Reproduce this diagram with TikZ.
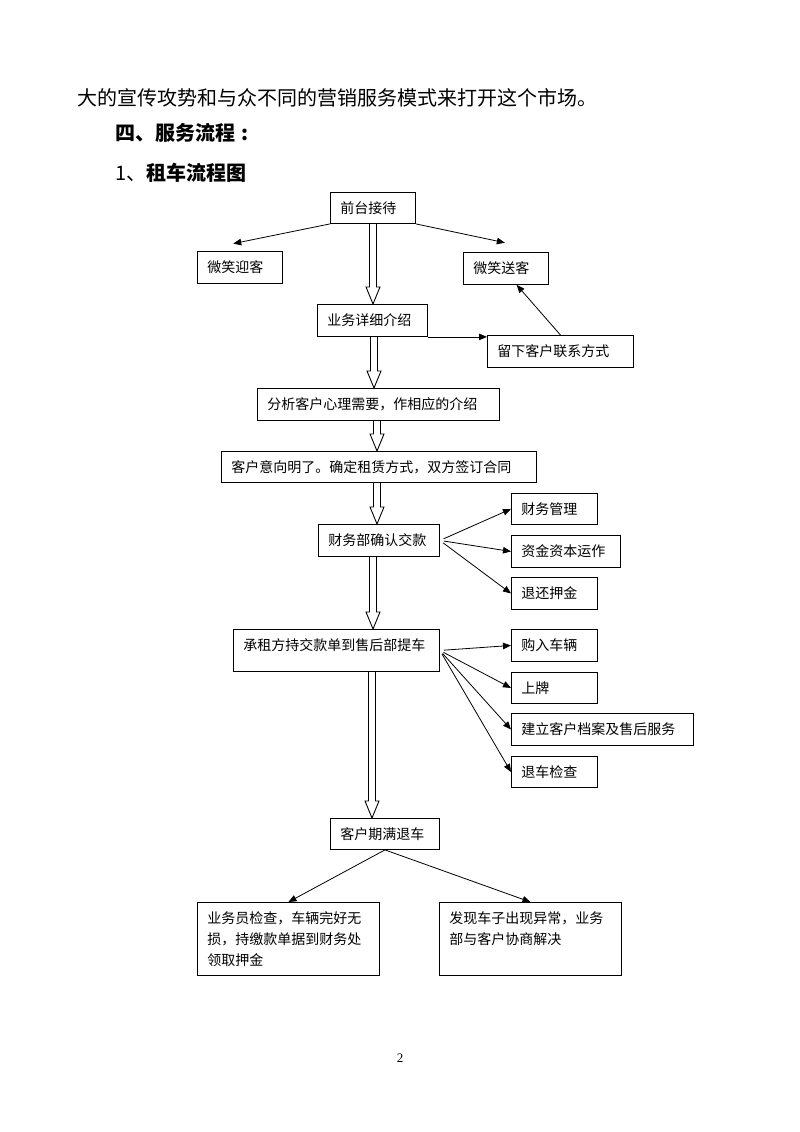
\documentclass[tikz,border=0pt]{standalone}
\usepackage{fontspec}
\setmainfont{Noto Sans CJK SC}
\newfontfamily\numfont{Liberation Serif}
\usetikzlibrary{arrows.meta,calc}

% hollow block arrow from the bottom of #1 to the top of #2, at x = #3
\newcommand{\hollow}[3]{%
  \draw[line width=0.9pt] let \p1=(#1.south), \p2=(#2.north) in
    (#3pt-3.5pt,\y1) -- (#3pt-3.5pt,\y2+17pt) -- (#3pt-7pt,\y2+17pt) -- (#3pt,\y2)
    -- (#3pt+7pt,\y2+17pt) -- (#3pt+3.5pt,\y2+17pt) -- (#3pt+3.5pt,\y1);}

\begin{document}
\begin{tikzpicture}
  [x=1pt,y=-1pt,
   stepbox/.style 2 args={draw,line width=0.9pt,rectangle,anchor=north west,
     inner xsep=10pt,inner ysep=0pt,align=left,font=\fontsize{14}{21}\selectfont,
     text width=#1pt-20pt,text height=21pt,text depth=#2pt-21pt},
   arr/.style={line width=0.8pt,-{Triangle[length=8pt,width=6.5pt]}},
   textline/.style={anchor=west,inner sep=0pt,font=\fontsize{20}{24}\selectfont}]

  \fill[white] (0,0) rectangle (800,1132);
  \useasboundingbox (0,0) rectangle (800,1132);

  \node[textline] (t1) at (77,98) {大的宣传攻势和与众不同的营销服务模式来打开这个市场。};
  \node[textline,font=\fontsize{20}{24}\selectfont\bfseries] (t2) at (115,133) {四、服务流程\hspace{6pt}:};
  \node[textline] (t3) at (115,173) {1、\textbf{租车流程图}};

  \node[stepbox={85}{31}]  (n1)  at (330,192) {前台接待};
  \node[stepbox={85}{32}]  (n2)  at (197,251) {微笑迎客};
  \node[stepbox={85}{32}]  (n3)  at (463,252) {微笑送客};
  \node[stepbox={110}{32}] (n4)  at (317,304) {业务详细介绍};
  \node[stepbox={146}{32}] (n5)  at (487,335) {留下客户联系方式};
  \node[stepbox={242}{32}] (n6)  at (257,388) {分析客户心理需要，作相应的介绍};
  \node[stepbox={315}{31}] (n7)  at (221,451) {客户意向明了。确定租赁方式，双方签订合同};
  \node[stepbox={121}{32}] (n8)  at (318,524) {财务部确认交款};
  \node[stepbox={86}{31}]  (n9)  at (511,493) {财务管理};
  \node[stepbox={109}{32}] (n10) at (511,535) {资金资本运作};
  \node[stepbox={86}{32}]  (n11) at (511,577) {退还押金};
  \node[stepbox={206}{42}] (n12) at (233,629) {承租方持交款单到售后部提车};
  \node[stepbox={86}{32}]  (n13) at (511,629) {购入车辆};
  \node[stepbox={86}{31}]  (n14) at (511,672) {上牌};
  \node[stepbox={182}{32}] (n15) at (511,713) {建立客户档案及售后服务};
  \node[stepbox={86}{31}]  (n16) at (511,756) {退车检查};
  \node[stepbox={109}{31}] (n17) at (330,818) {客户期满退车};
  \node[stepbox={182}{73}] (n18) at (197,902) {业务员检查，车辆完好无\\损，持缴款单据到财务处\\领取押金};
  \node[stepbox={182}{73}] (n19) at (439,902) {发现车子出现异常，业务\\部与客户协商解决};

  \node[inner sep=0pt,font=\numfont\fontsize{13}{13}\selectfont] (pg) at (400,1058) {2};

  \foreach \from/\to/\pos in {n1/n4/373,n4/n6/374,n6/n7/377,n7/n8/377,n8/n12/373,n12/n17/372}
    \hollow{\from}{\to}{\pos};

  \draw[arr,shorten >=37pt] (n1.south west) -- (n2.north west);
  \draw[arr,shorten >=45pt] (n1.south east) -- (n3.north east);
  \draw[arr] (n4.south east) -- (n4.south east -| n5.west);
  \draw[arr] (n5.north) -- (n3.-57);
  \foreach \to in {n9,n10,n11}
    \draw[arr,shorten <=4pt] (n8.east) -- (\to.west);
  \foreach \to in {n13,n14,n15,n16}
    \draw[arr,shorten <=4pt] (n12.east) -- (\to.west);
  \foreach \to in {n18,n19}
    \draw[arr] (n17.south) -- (\to.north);
\end{tikzpicture}
\end{document}
